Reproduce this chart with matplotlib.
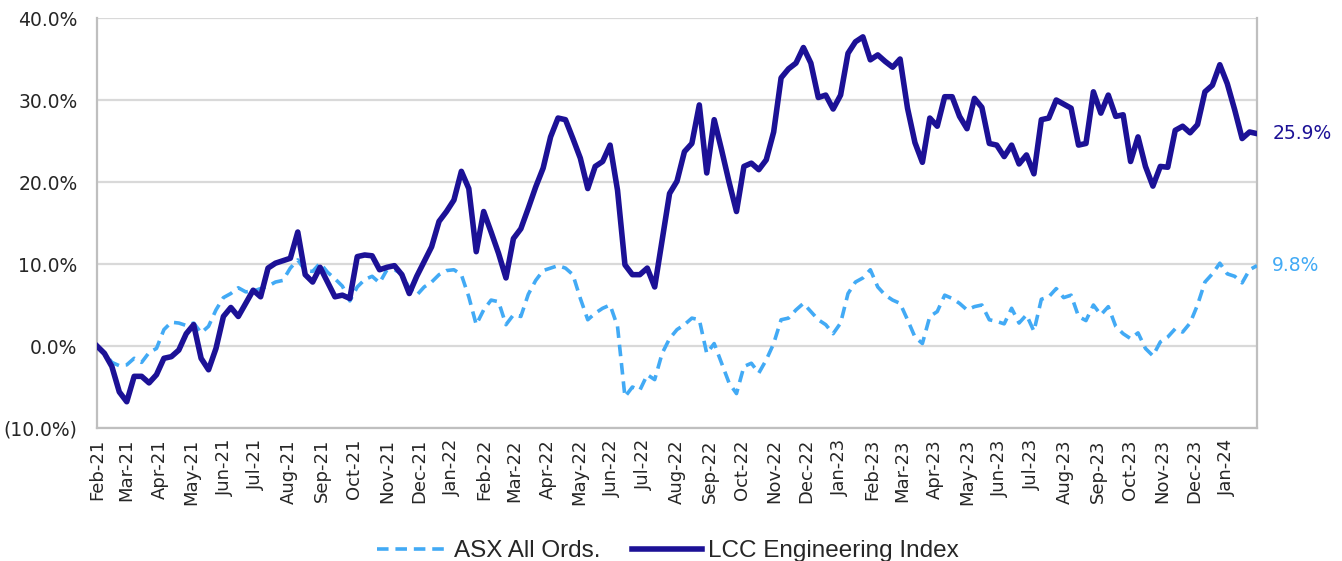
import matplotlib
matplotlib.use("Agg")
import matplotlib.pyplot as plt
import matplotlib.dates as mdates
from matplotlib.ticker import FuncFormatter
import pandas as pd

# ---- data (weekly, % change since start) ----
start_date = "2021-02-01"
n_weeks = 157

lcc_index = [
    0.0, -0.9, -2.5, -5.6, -6.8, -3.7, -3.7, -4.5, -3.5, -1.5,
    -1.3, -0.5, 1.5, 2.6, -1.5, -2.9, -0.3, 3.6, 4.7, 3.6,
    5.2, 6.8, 6.0, 9.5, 10.1, 10.4, 10.7, 13.9, 8.7, 7.8,
    9.6, 7.8, 6.0, 6.2, 5.8, 10.9, 11.1, 11.0, 9.3, 9.6,
    9.8, 8.7, 6.4, 8.5, 10.3, 12.1, 15.2, 16.4, 17.8, 21.3,
    19.2, 11.5, 16.4, 13.9, 11.3, 8.3, 13.1, 14.3, 16.8, 19.4,
    21.7, 25.5, 27.8, 27.6, 25.3, 22.9, 19.2, 21.9, 22.5, 24.5,
    19.0, 9.9, 8.7, 8.7, 9.5, 7.2, 12.9, 18.6, 20.1, 23.7,
    24.7, 29.4, 21.1, 27.6, 23.9, 20.0, 16.4, 21.9, 22.3, 21.5,
    22.7, 26.1, 32.7, 33.8, 34.5, 36.4, 34.5, 30.3, 30.6, 28.9,
    30.6, 35.7, 37.1, 37.7, 34.9, 35.5, 34.7, 34.0, 35.0, 29.0,
    24.8, 22.4, 27.8, 26.8, 30.4, 30.4, 28.0, 26.5, 30.2, 29.1,
    24.7, 24.5, 23.1, 24.5, 22.2, 23.3, 21.0, 27.6, 27.8, 30.0,
    29.5, 29.0, 24.5, 24.7, 31.0, 28.4, 30.6, 28.0, 28.2, 22.5,
    25.5, 21.9, 19.5, 21.9, 21.8, 26.3, 26.8, 26.0, 27.0, 31.0,
    31.8, 34.3, 32.0, 28.8, 25.3, 26.1, 25.9,
]

asx_all_ords = [
    0.0, -0.8, -2.0, -2.4, -2.3, -1.5, -2.0, -0.8, -0.3, 2.0,
    2.9, 2.8, 2.5, 2.8, 1.6, 2.4, 4.4, 5.9, 6.4, 7.1,
    6.6, 6.7, 7.0, 7.3, 7.8, 8.0, 9.5, 10.5, 9.2, 9.1,
    10.1, 9.0, 8.2, 7.3, 5.5, 7.2, 8.1, 8.5, 7.7, 9.3,
    9.3, 8.8, 7.0, 6.2, 7.2, 7.8, 8.7, 9.2, 9.3, 8.7,
    6.0, 2.6, 4.4, 5.6, 5.4, 2.6, 3.8, 3.6, 6.3, 8.0,
    9.2, 9.5, 9.8, 9.5, 8.7, 5.8, 3.2, 4.0, 4.6, 5.0,
    2.4, -6.2, -5.0, -5.4, -3.5, -4.1, -0.9, 0.9, 2.0, 2.6,
    3.4, 3.2, -0.9, 0.3, -2.1, -4.5, -5.8, -2.5, -2.1, -3.3,
    -1.7, 0.3, 3.2, 3.4, 4.4, 5.2, 4.2, 3.2, 2.6, 1.5,
    2.8, 6.4, 7.8, 8.3, 9.3, 7.2, 6.2, 5.6, 5.2, 3.2,
    1.1, 0.3, 3.6, 4.2, 6.2, 5.8, 5.2, 4.4, 4.8, 5.0,
    3.2, 3.0, 2.7, 4.6, 2.8, 3.8, 1.8, 5.7, 6.0, 7.0,
    5.9, 6.2, 3.6, 3.1, 5.0, 3.8, 4.8, 2.4, 1.5, 0.9,
    1.6, -0.3, -1.2, 0.5, 1.1, 2.1, 1.7, 2.8, 5.0, 7.8,
    8.8, 10.1, 8.8, 8.5, 7.7, 9.3, 9.8,
]

series_names = ["ASX All Ords.", "LCC Engineering Index"]
y_ticks = [-10, 0, 10, 20, 30, 40]

dates = pd.date_range(start_date, periods=n_weeks, freq="7D")

# ---- style ----
c_lcc = "#1c1196"
c_asx = "#42aaf5"
c_grid = "#d9d9d9"
c_spine = "#bfbfbf"
c_text = "#262626"

fig = plt.figure(figsize=(13.42, 5.61), dpi=100)
ax = fig.add_axes([97 / 1342, 1 - 428 / 561, (1257 - 97) / 1342, (428 - 18) / 561])

ax.plot(dates, asx_all_ords, color=c_asx, lw=2.6, ls=(0, (3.2, 1.9)),
        dash_capstyle="butt", label=series_names[0], zorder=3)
ax.plot(dates, lcc_index, color=c_lcc, lw=4.0, solid_joinstyle="round",
        label=series_names[1], zorder=4)

ax.set_xlim(dates[0], dates[-1])
ax.set_ylim(-10, 40)
ax.set_yticks(y_ticks)
ax.yaxis.set_major_formatter(FuncFormatter(
    lambda v, p: f"{v:.1f}%" if v >= 0 else f"({abs(v):.1f}%)"))
ax.grid(axis="y", color=c_grid, lw=1.6, zorder=0)
ax.set_axisbelow(True)

ax.xaxis.set_major_locator(mdates.MonthLocator())
ax.xaxis.set_major_formatter(mdates.DateFormatter("%b-%y"))
ax.tick_params(axis="x", length=0, pad=8, labelsize=13, labelcolor=c_text,
               labelrotation=90)
ax.tick_params(axis="y", length=0, pad=14, labelsize=13.5, labelcolor=c_text)

ax.spines["top"].set_visible(False)
for s in ["left", "bottom", "right"]:
    ax.spines[s].set_color(c_spine)
    ax.spines[s].set_linewidth(1.6)

# end labels
ax.annotate(f"{lcc_index[-1]:.1f}%", xy=(dates[-1], lcc_index[-1]),
            xytext=(11, 0), textcoords="offset points", va="center",
            ha="left", color=c_lcc, fontsize=13.5, annotation_clip=False)
ax.annotate(f"{asx_all_ords[-1]:.1f}%", xy=(dates[-1], asx_all_ords[-1]),
            xytext=(11, 0), textcoords="offset points", va="center",
            ha="left", color=c_asx, fontsize=13.5, annotation_clip=False)

leg = fig.legend(loc="center", bbox_to_anchor=(668 / 1342, 1 - 551 / 561),
                 ncol=2, frameon=False, handlelength=2.9, handletextpad=0.25,
                 columnspacing=1.3, borderpad=0,
                 prop={"family": ["Liberation Sans", "DejaVu Sans"], "size": 17.5})
for t in leg.get_texts():
    t.set_color(c_text)

fig.savefig("out.png", dpi=100)
